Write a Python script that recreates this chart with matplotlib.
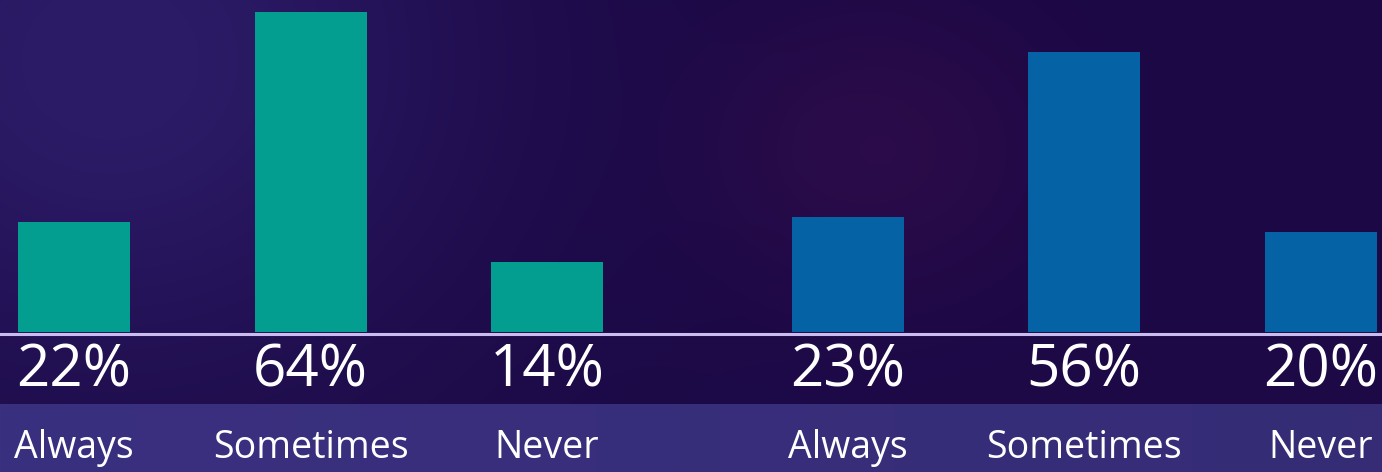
import numpy as np
import matplotlib.pyplot as plt

# survey answers, two groups of three
categories = ["Always", "Sometimes", "Never"]
group_a = [22, 64, 14]
group_b = [23, 56, 20]
pct_labels_a = ["22%", "64%", "14%"]
pct_labels_b = ["23%", "56%", "20%"]

teal = "#049e91"
blue = "#0563a5"

W, H = 1382, 472
fig = plt.figure(figsize=(W / 100, H / 100), dpi=100)

# background: dark purple with soft glows
bg_ax = fig.add_axes([0, 0, 1, 1])
yy, xx = np.mgrid[0:H, 0:W]
base = np.array([0x1b, 0x08, 0x45], dtype=float) / 255
img = np.ones((H, W, 3)) * base
glow1 = np.exp(-(((xx - 110) / 360.0) ** 2 + ((yy - 60) / 320.0) ** 2))
img += glow1[..., None] * (np.array([0x2c, 0x1c, 0x68]) / 255 - base)
glow2 = np.exp(-(((xx - 880) / 180.0) ** 2 + ((yy - 150) / 150.0) ** 2))
img += glow2[..., None] * (np.array([0x2f, 0x0c, 0x4a]) / 255 - base) * 0.8
# darker strip below the baseline
strip = (yy > 335) & (yy < 404)
img[strip] = img[strip] * 0.85 + np.array([0x22, 0x12, 0x50]) / 255 * 0.15
# label band
band = yy >= 404
band_col = np.array([0x3a, 0x30, 0x80]) / 255
img[band] = band_col * (1 - 0.08 * (xx[band] / W))[:, None]
bg_ax.imshow(np.clip(img, 0, 1), extent=[0, W, H, 0], aspect="auto")
bg_ax.axis("off")

# bar axes
unit = 236.5
x0 = -74 / unit
ax = fig.add_axes([0, (H - 332) / H, 1, 332 / H])
ax.set_xlim(x0, x0 + W / unit)
ax.set_ylim(0, 332 / 5)
ax.axis("off")

pos_a = np.arange(3)
pos_b = np.arange(3) + 3 + 64 / unit
width = 112 / unit
ax.bar(pos_a, group_a, width=width, color=teal)
ax.bar(pos_b, group_b, width=width, color=blue)

# baseline
fig.add_artist(plt.Line2D([0, 1], [(H - 334) / H] * 2, color="#cbbcf0", lw=2.2))

font = "Open Sans"
for p, lab in zip(list(pos_a) + list(pos_b), pct_labels_a + pct_labels_b):
    xf = (p - x0) / (W / unit)
    fig.text(xf, (H - 371) / H, lab, ha="center", va="center",
             color="white", fontsize=42, family=font)
for p, cat in zip(list(pos_a) + list(pos_b), categories + categories):
    xf = (p - x0) / (W / unit)
    fig.text(xf, (H - 448) / H, cat, ha="center", va="center",
             color="white", fontsize=27, family=font)

fig.savefig("out.png", dpi=100)
